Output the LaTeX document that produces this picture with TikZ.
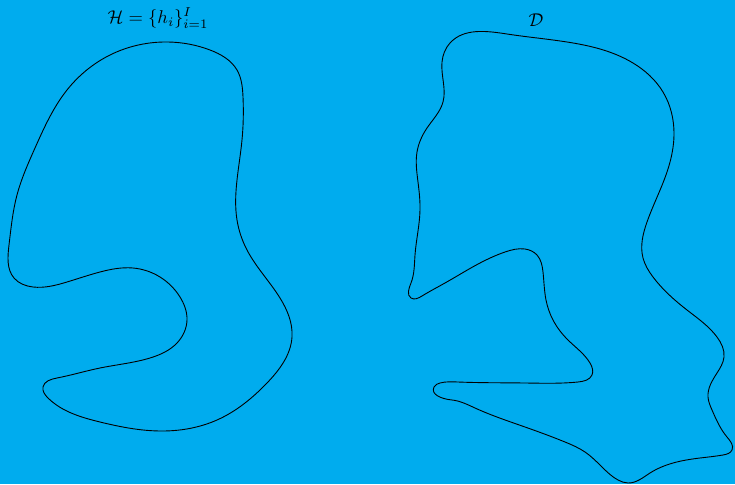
\documentclass[tikz,border=0pt]{standalone}
\usetikzlibrary{hobby}
\definecolor{bgblue}{RGB}{0,172,238}
\begin{document}
\begin{tikzpicture}[x=1pt,y=-1pt,
  lbl/.style={inner sep=0pt,scale=1.85}]
\fill[bgblue] (0,0) rectangle (735,484);
\useasboundingbox (0,0) rectangle (735,484);
\node[lbl] (hlab) at (158,18) {$\mathcal{H}=\{h_i\}_{i=1}^{I}$};
\node[lbl] (dlab) at (536,20) {$\mathcal{D}$};
\draw[line width=0.9pt] plot[closed hobby] coordinates {
 (168,42) (210,50) (237,70) (243,97) (242,140) (237,180) (237,220) (247,250)
 (280,298) (292,337) (267,383) (217,420) (160,431) (100,422) (48,398) (43,387)
 (57,378) (100,368) (150,358) (177,343) (187,320) (180,297) (160,277) (133,268)
 (100,272) (67,282) (33,287) (14,278) (9,245) (17,195) (35,148) (67,90) (110,55)};
\draw[line width=0.9pt] plot[closed hobby] coordinates {
 (507,34) (567,42) (633,63) (663,92) (674,135) (667,172) (647,222) (643,258)
 (653,277) (687,310) (717,337) (724,357) (717,373) (708,397) (712,410) (727,437)
 (732,450) (723,455) (700,458) (673,463) (650,473) (628,483) (618,480) (602,467)
 (585,452) (565,442) (525,427) (475,408) (452,400) (434,387) (440,383) (458,382)
 (525,383) (578,382) (592,375) (590,363) (568,340) (553,320) (546,300) (543,272)
 (537,255) (525,249) (505,252) (480,263) (445,283) (422,296) (411,298) (411,283)
 (415,255) (420,210) (418,182) (417,152) (427,128) (443,102) (442,62) (450,43)};
\end{tikzpicture}
\end{document}
